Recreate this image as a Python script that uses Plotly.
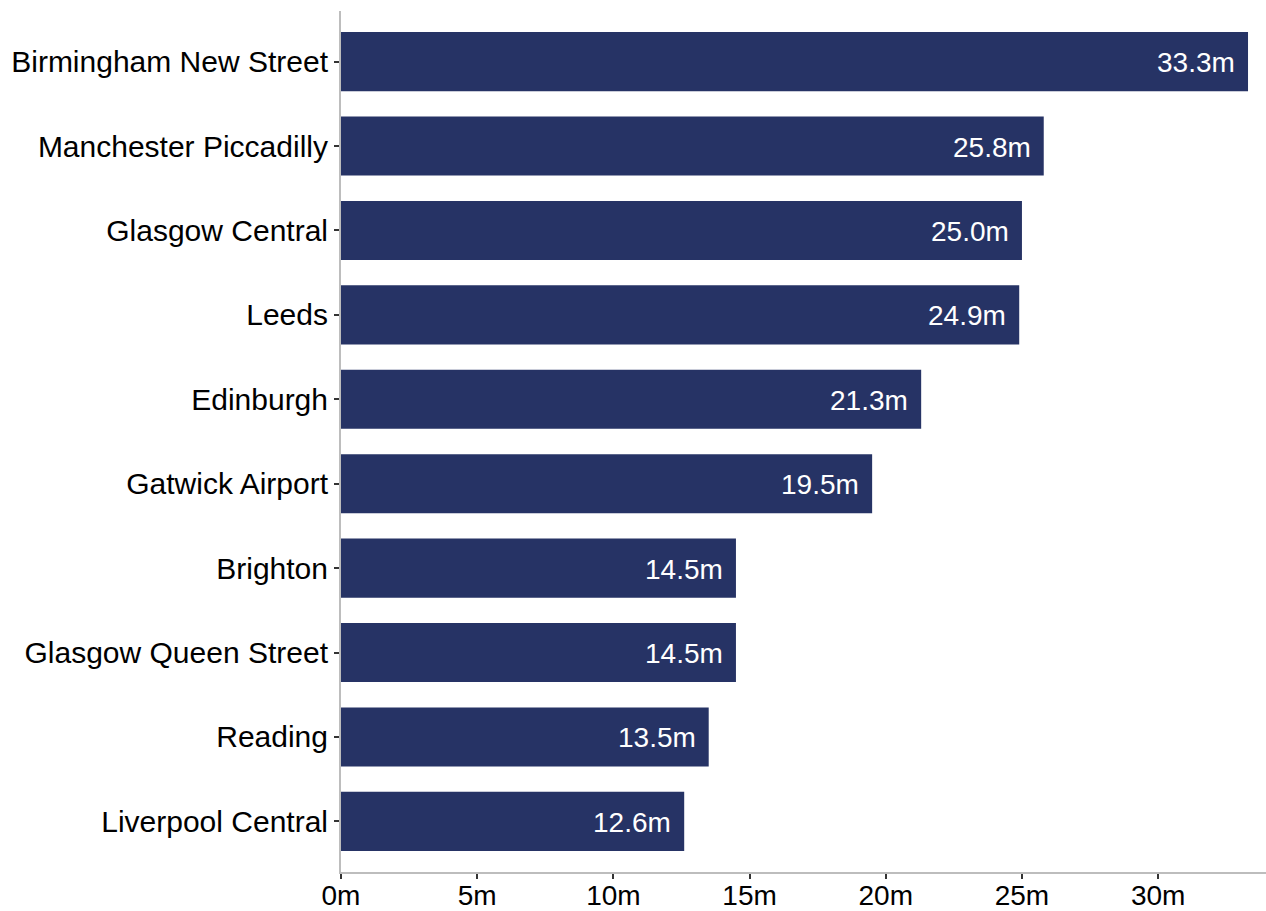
import plotly.graph_objects as go

# Station footfall (millions), listed top to bottom
stations = [
    "Birmingham New Street",
    "Manchester Piccadilly",
    "Glasgow Central",
    "Leeds",
    "Edinburgh",
    "Gatwick Airport",
    "Brighton",
    "Glasgow Queen Street",
    "Reading",
    "Liverpool Central",
]
passengers_m = [33.3, 25.8, 25.0, 24.9, 21.3, 19.5, 14.5, 14.5, 13.5, 12.6]
x_ticks = [0, 5, 10, 15, 20, 25, 30]
x_tick_labels = ["0m", "5m", "10m", "15m", "20m", "25m", "30m"]

BAR = "#263365"
FONT = "Liberation Sans, Arial, sans-serif"

fig = go.Figure()
fig.add_trace(go.Bar(
    x=passengers_m,
    y=stations,
    orientation="h",
    width=0.7,
    marker=dict(color=BAR, line=dict(width=0)),
    hoverinfo="skip",
))

# value labels just inside the end of each bar
for s, v in zip(stations, passengers_m):
    fig.add_annotation(
        x=v, y=s, xref="x", yref="y",
        text=f"{v:.1f}m",
        showarrow=False,
        xanchor="right", yanchor="middle",
        xshift=-11, yshift=-1,
        font=dict(family=FONT, size=28, color="white"),
    )

fig.update_layout(
    width=1266, height=911,
    margin=dict(l=341, r=0, t=11, b=39),
    plot_bgcolor="white",
    paper_bgcolor="white",
    showlegend=False,
    font=dict(family=FONT, color="black"),
)
fig.update_xaxes(
    range=[0, 33.96],
    tickvals=x_ticks,
    ticktext=x_tick_labels,
    tickfont=dict(family=FONT, size=28, color="black"),
    showgrid=False, zeroline=False,
    showline=True, linecolor="#bdbdbd", linewidth=2,
    ticks="outside", ticklen=5, tickwidth=1.5, tickcolor="#333333",
    ticklabelstandoff=-8,
    automargin=False,
    fixedrange=True,
)
fig.update_yaxes(
    type="category",
    categoryorder="array", categoryarray=stations,
    range=[9.6, -0.6],
    tickfont=dict(family=FONT, size=30, color="black"),
    showgrid=False, zeroline=False,
    showline=True, linecolor="#bdbdbd", linewidth=2,
    ticks="outside", ticklen=5, tickwidth=1.5, tickcolor="#333333",
    ticklabelstandoff=0,
    automargin=False,
    fixedrange=True,
)

fig.write_html("out.html", config={"displayModeBar": False})
